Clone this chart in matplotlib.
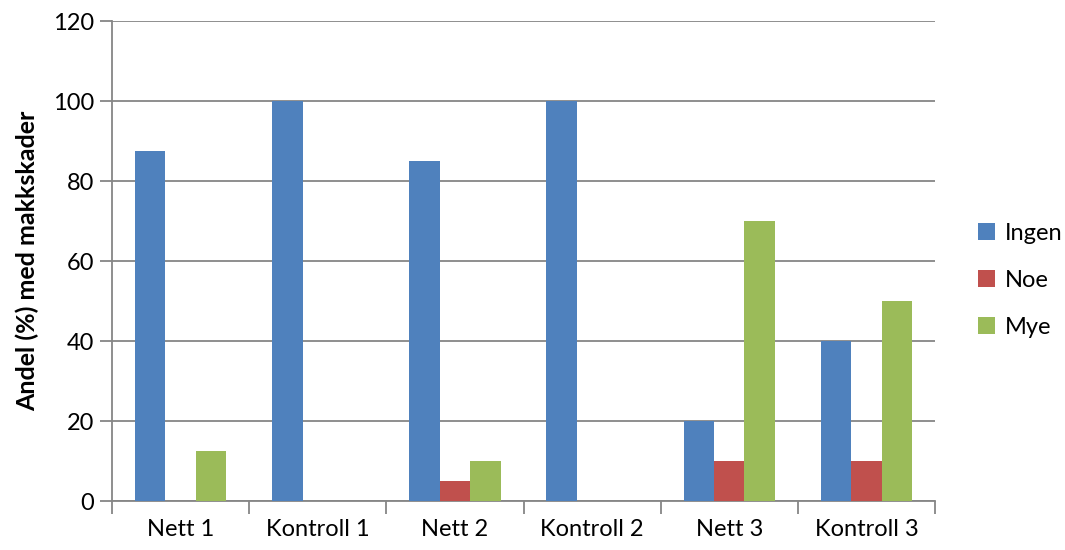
import numpy as np
import matplotlib
matplotlib.use("Agg")
import matplotlib.pyplot as plt

plt.rcParams['font.family'] = ['Lato', 'DejaVu Sans']

categories = ['Nett 1', 'Kontroll 1', 'Nett 2', 'Kontroll 2', 'Nett 3', 'Kontroll 3']
ingen = [87.5, 100, 85, 100, 20, 40]
noe = [0, 0, 5, 0, 10, 10]
mye = [12.5, 0, 10, 0, 70, 50]
series = [('Ingen', ingen, '#4F81BD'), ('Noe', noe, '#C0504D'), ('Mye', mye, '#9BBB59')]

fig = plt.figure(figsize=(10.65, 5.5), dpi=100)
ax = fig.add_axes([112/1065, 49/550, (935-112)/1065, 480/550])

x = np.arange(len(categories))
w = 1 / 4.5
for i, (name, vals, col) in enumerate(series):
    ax.bar(x + (i - 1) * w, vals, width=w, color=col, label=name, zorder=3)

grid_col = '#868686'
ax.set_ylim(0, 120)
ax.set_xlim(-0.5, len(categories) - 0.5)
ax.set_yticks(range(0, 121, 20))
ax.yaxis.grid(True, color=grid_col, linewidth=1.3, zorder=0)
ax.set_xticks(x)
ax.set_xticklabels(categories, fontsize=17)
ax.set_xticks(np.arange(-0.5, len(categories), 1), minor=True)
ax.tick_params(axis='x', which='major', length=0, pad=13)
ax.tick_params(axis='x', which='minor', length=9, width=1.3, color=grid_col, direction='out')
ax.tick_params(axis='y', length=9, width=1.3, color=grid_col, labelsize=17, pad=4)

for s in ['top', 'right']:
    ax.spines[s].set_visible(False)
for s in ['left', 'bottom']:
    ax.spines[s].set_color(grid_col)
    ax.spines[s].set_linewidth(1.3)

ax.set_ylabel('Andel (%) med makkskader', fontsize=18, fontweight='bold', labelpad=10)

leg = ax.legend(loc='center left', bbox_to_anchor=(1.026, 0.46), frameon=False,
                fontsize=17, handlelength=0.75, handleheight=0.75, handletextpad=0.4,
                labelspacing=1.1)

fig.savefig('out.png', dpi=100)
